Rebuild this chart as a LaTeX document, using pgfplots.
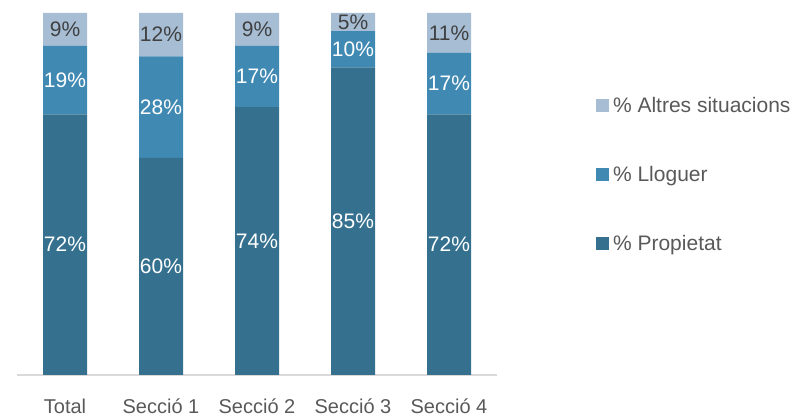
\documentclass[border=0pt]{standalone}
\usepackage{fontspec}
\setmainfont{Liberation Sans}
\usepackage{pgfplots}
\pgfplotsset{compat=1.18}
\definecolor{cProp}{HTML}{35718F}
\definecolor{cLlog}{HTML}{4089B3}
\definecolor{cAlt}{HTML}{A6BDD4}
\definecolor{txtgray}{HTML}{595959}
\definecolor{lbldark}{HTML}{404040}
\newcommand{\bigf}{\fontsize{21}{25}\selectfont}
\begin{document}
\begin{tikzpicture}
\path[use as bounding box] (0,0) rectangle (810pt,417pt);
\begin{axis}[
  at={(17pt,42pt)}, anchor=south west,
  scale only axis, width=480pt, height=362pt,
  ybar stacked, bar width=44pt,
  xmin=-0.5, xmax=4.5, ymin=0, ymax=100,
  axis y line=none, axis x line*=bottom,
  x axis line style={-, draw=black!15, line width=1.2pt},
  xtick={0,1,2,3,4},
  xticklabels={Total,Secció 1,Secció 2,Secció 3,Secció 4},
  major tick length=0pt,
  xticklabel style={font=\fontsize{20}{24}\selectfont, text=txtgray, anchor=base, yshift=-38pt},
  point meta=explicit symbolic,
  nodes near coords={\pgfplotspointmeta\%},
  nodes near coords style={font=\bigf, anchor=center},
  reverse legend,
  legend image code/.code={\path[#1,draw=none] (0pt,-6.5pt) rectangle (13pt,6.5pt);},
  legend style={at={(1.206,0.773)}, anchor=north west, draw=none, fill=none,
    font=\bigf, text=txtgray, row sep=48pt, inner sep=0pt,
    /tikz/every odd column/.append style={column sep=2pt}},
  legend cell align=left,
]
\addplot[fill=cProp, draw=none, nodes near coords style={text=white}]
  coordinates {(0,72) [72] (1,60) [60] (2,74) [74] (3,85) [85] (4,72) [72]};
\addplot[fill=cLlog, draw=none, nodes near coords style={text=white}]
  coordinates {(0,19) [19] (1,28) [28] (2,17) [17] (3,10) [10] (4,17) [17]};
\addplot[fill=cAlt, draw=none, nodes near coords style={text=lbldark}]
  coordinates {(0,9) [9] (1,12) [12] (2,9) [9] (3,5) [5] (4,11) [11]};
\legend{\% Propietat, \% Lloguer, \% Altres situacions}
\end{axis}
\end{tikzpicture}
\end{document}
